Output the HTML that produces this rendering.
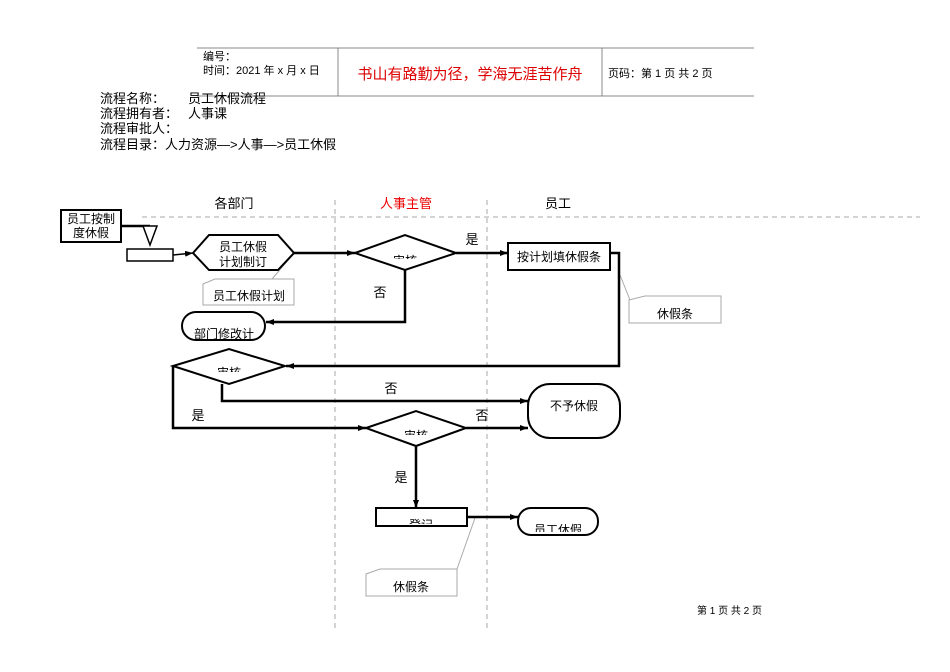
<!DOCTYPE html>
<html><head><meta charset="utf-8"><style>
html,body{margin:0;padding:0;background:#fff;}
svg{display:block;font-family:"Liberation Sans","Noto Sans CJK SC",sans-serif;}
</style></head><body>
<svg width="950" height="672" viewBox="0 0 950 672" xmlns="http://www.w3.org/2000/svg">
<defs>
<marker id="a" markerWidth="8" markerHeight="6" refX="8" refY="3" orient="auto" markerUnits="userSpaceOnUse"><path d="M0,0 L8,3 L0,6 z" fill="#000"/></marker>
<clipPath id="c1"><rect x="355" y="235" width="101" height="24"/></clipPath>
<clipPath id="c2"><rect x="182" y="312" width="83" height="28"/></clipPath>
<clipPath id="c3"><rect x="173" y="349" width="112" height="23"/></clipPath>
<clipPath id="c4"><rect x="366" y="411" width="100" height="24"/></clipPath>
<clipPath id="c5"><rect x="376" y="508" width="91" height="16"/></clipPath>
<clipPath id="c6"><rect x="518" y="508" width="80" height="24"/></clipPath>
</defs>
<g stroke="#888" stroke-width="1" fill="none">
<line x1="197" y1="48" x2="754" y2="48"/>
<line x1="197" y1="96" x2="754" y2="96"/>
<line x1="338" y1="48" x2="338" y2="96"/>
<line x1="602" y1="48" x2="602" y2="96"/>
</g>
<g font-size="11" fill="#000">
<text x="203" y="60">编号：</text>
<text x="203" y="74">时间：2021 年 x 月 x 日</text>
<text x="608" y="77">页码：第 1 页 共 2 页</text>
</g>
<text x="470" y="79" font-size="15" fill="#d00" text-anchor="middle">书山有路勤为径，学海无涯苦作舟</text>
<g font-size="13" fill="#000">
<text x="100" y="103">流程名称：</text><text x="188" y="103">员工休假流程</text>
<text x="100" y="118">流程拥有者：</text><text x="188" y="118">人事课</text>
<text x="100" y="133">流程审批人：</text>
<text x="100" y="149">流程目录：人力资源—&gt;人事—&gt;员工休假</text>
</g>
<g font-size="13" text-anchor="middle">
<text x="234" y="208">各部门</text>
<text x="406" y="208" fill="#e00">人事主管</text>
<text x="558" y="208">员工</text>
</g>
<g stroke="#aaa" stroke-dasharray="5,4" stroke-width="1">
<line x1="142" y1="217" x2="920" y2="217"/>
<line x1="335" y1="200" x2="335" y2="632"/>
<line x1="487" y1="200" x2="487" y2="632"/>
</g>
<!-- callouts -->
<g stroke="#aaa" fill="#fff" stroke-width="1">
<line x1="290" y1="258" x2="272" y2="279"/>
<path d="M203,284 L215,279 L294,279 L294,305 L203,305 Z"/>
<line x1="620" y1="275" x2="630" y2="300"/>
<path d="M629,300 L645,296 L721,296 L721,323 L629,323 Z"/>
<line x1="475" y1="518" x2="457" y2="569"/>
<path d="M366,574 L380,569 L457,569 L457,596 L366,596 Z"/>
</g>
<g font-size="12" text-anchor="middle">
<text x="249" y="300">员工休假计划</text>
<text x="675" y="318">休假条</text>
<text x="411" y="591">休假条</text>
</g>
<!-- connectors -->
<g stroke="#000" stroke-width="2.5" fill="none">
<polyline points="121,226 150,226"/>
<polyline points="173,255 193,253" stroke-width="1.5" marker-end="url(#a)"/>
<polyline points="294,253 355,253" marker-end="url(#a)"/>
<polyline points="456,253 508,253" marker-end="url(#a)"/>
<polyline points="405,270 405,322 266,322" marker-end="url(#a)"/>
<polyline points="610,253 619,253 619,366 286,366" marker-end="url(#a)"/>
<polyline points="222,384 222,401 528,401" marker-end="url(#a)"/>
<polyline points="173,366 173,428 366,428" marker-end="url(#a)"/>
<polyline points="466,428 528,428" marker-end="url(#a)"/>
<polyline points="416,446 416,508" marker-end="url(#a)"/>
<polyline points="467,517 518,517" marker-end="url(#a)"/>
</g>
<!-- shapes -->
<g stroke="#000" stroke-width="2" fill="#fff">
<rect x="61" y="210" width="60" height="32"/>
<path d="M143,226 L157,226 L150,245 Z" stroke-width="1.5"/>
<rect x="127" y="249" width="46" height="12" stroke-width="1.5"/>
<polygon points="193,253 209,235 278,235 294,253 278,270 209,270"/>
<polygon points="355,253 405,235 456,253 405,270"/>
<rect x="508" y="243" width="102" height="27"/>
<rect x="182" y="312" width="83" height="28" rx="14"/>
<polygon points="173,366 229,349 285,366 229,384"/>
<rect x="528" y="384" width="92" height="54" rx="22"/>
<polygon points="366,428 416,411 466,428 416,446"/>
<rect x="376" y="508" width="91" height="18"/>
<rect x="518" y="508" width="80" height="27" rx="13"/>
</g>
<g font-size="12" text-anchor="middle" fill="#000">
<text x="91" y="223">员工按制</text><text x="91" y="237">度休假</text>
<text x="243" y="251">员工休假</text><text x="243" y="266">计划制订</text>
<text x="559" y="261">按计划填休假条</text>
<text x="574" y="410">不予休假</text>
<g clip-path="url(#c1)"><text x="405" y="265">审核</text></g>
<g clip-path="url(#c2)"><text x="224" y="338">部门修改计</text></g>
<g clip-path="url(#c3)"><text x="229" y="377">审核</text></g>
<g clip-path="url(#c4)"><text x="416" y="440">审核</text></g>
<g clip-path="url(#c5)"><text x="421" y="529">登记</text></g>
<g clip-path="url(#c6)"><text x="558" y="534">员工休假</text></g>
</g>
<g font-size="13" text-anchor="middle">
<text x="472" y="244">是</text>
<text x="380" y="297">否</text>
<text x="391" y="393">否</text>
<text x="198" y="420">是</text>
<text x="482" y="420">否</text>
<text x="401" y="482">是</text>
</g>
<text x="697" y="614" font-size="10">第 1 页 共 2 页</text>
</svg>
</body></html>
